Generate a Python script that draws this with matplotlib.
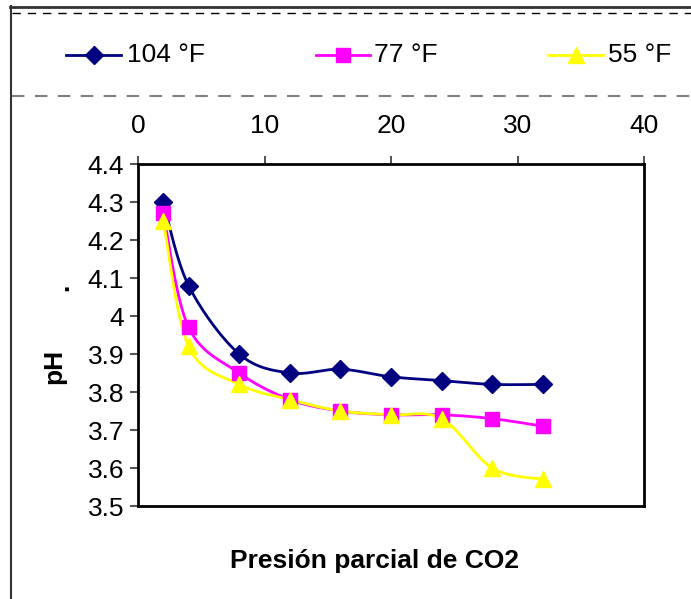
import numpy as np
import matplotlib
matplotlib.use('Agg')
import matplotlib.pyplot as plt
from matplotlib.lines import Line2D

plt.rcParams['font.family'] = ['Liberation Sans', 'DejaVu Sans']

# Datos: presión parcial de CO2 vs pH a tres temperaturas
presion = [2, 4, 8, 12, 16, 20, 24, 28, 32]
ph_104 = [4.30, 4.08, 3.90, 3.85, 3.86, 3.84, 3.83, 3.82, 3.82]
ph_77 = [4.27, 3.97, 3.85, 3.78, 3.75, 3.74, 3.74, 3.73, 3.71]
ph_55 = [4.25, 3.92, 3.82, 3.78, 3.75, 3.74, 3.73, 3.60, 3.57]

series = [
    ('104 °F', ph_104, '#000080', 'D', 9),
    ('77 °F', ph_77, '#FF00FF', 's', 10),
    ('55 °F', ph_55, '#FFFF00', '^', 11),
]

x_ticks = [0, 10, 20, 30, 40]
y_ticks = [3.5, 3.6, 3.7, 3.8, 3.9, 4.0, 4.1, 4.2, 4.3, 4.4]
y_labels = ['3.5', '3.6', '3.7', '3.8', '3.9', '4', '4.1', '4.2', '4.3', '4.4']


def smooth(x, y, n=30):
    """Curva suavizada tipo Catmull-Rom entre los puntos dados."""
    p = np.column_stack([x, y]).astype(float)
    p = np.vstack([p[0], p, p[-1]])
    t = np.linspace(0, 1, n)[:, None]
    out = []
    for i in range(1, len(p) - 2):
        p0, p1, p2, p3 = p[i - 1], p[i], p[i + 1], p[i + 2]
        c1 = p1 + (p2 - p0) / 6
        c2 = p2 - (p3 - p1) / 6
        seg = ((1 - t) ** 3) * p1 + 3 * ((1 - t) ** 2) * t * c1 \
            + 3 * (1 - t) * t ** 2 * c2 + t ** 3 * p2
        out.append(seg)
    out = np.vstack(out)
    return out[:, 0], out[:, 1]


fig = plt.figure(figsize=(6.91, 5.99), dpi=100)
W, H = 691, 599

def fx(px):
    return px / W

def fy(py):
    return 1 - py / H

# Marco exterior y líneas punteadas de la leyenda
fig.add_artist(Line2D([fx(10), 1], [fy(6.5), fy(6.5)], color='#333333', lw=2))
fig.add_artist(Line2D([fx(11), fx(11)], [fy(6), 0], color='#333333', lw=1.5))
fig.add_artist(Line2D([fx(12), 1], [fy(13), fy(13)], color='black', lw=1,
                      linestyle=(0, (6, 5))))
fig.add_artist(Line2D([fx(12), 1], [fy(96), fy(96)], color='#808080', lw=1.5,
                      linestyle=(0, (6, 5))))

ax = fig.add_axes([fx(138), fy(506), fx(644) - fx(138), fy(164) - fy(506)])

for label, vals, color, marker, ms in series:
    sx, sy = smooth(presion, vals)
    ax.plot(sx, sy, color=color, lw=2, zorder=2)
    ax.plot(presion, vals, linestyle='none', marker=marker, color=color,
            markersize=ms, zorder=3)

ax.set_xlim(0, 40)
ax.set_ylim(3.5, 4.4)
ax.set_xticks(x_ticks)
ax.set_yticks(y_ticks)
ax.set_yticklabels(y_labels)
ax.xaxis.tick_top()
ax.tick_params(axis='both', direction='out', length=6, width=1.2,
               labelsize=19, color='#333333')
ax.tick_params(axis='x', pad=13)
ax.tick_params(axis='y', pad=4)
for sp in ax.spines.values():
    sp.set_linewidth(2)
    sp.set_color('black')

# Leyenda manual en la franja superior
legend_pos = [(66, 121, 127), (316, 370, 374), (548, 603, 608)]
for (label, vals, color, marker, ms), (x0, x1, xt) in zip(series, legend_pos):
    fig.add_artist(Line2D([fx(x0), fx(x1)], [fy(55), fy(55)], color=color, lw=2))
    fig.add_artist(Line2D([fx((x0 + x1) / 2)], [fy(55)], marker=marker,
                          color=color, markersize=ms, linestyle='none'))
    fig.text(fx(xt), fy(55), label, fontsize=19, va='center', ha='left')

fig.text(fx(375), fy(561), 'Presión parcial de CO2', fontsize=19,
         fontweight='bold', ha='center', va='center')
fig.text(fx(54), fy(366), 'pH', fontsize=19, fontweight='bold',
         rotation=90, ha='center', va='center')
fig.text(fx(61), fy(287), '.', fontsize=19, fontweight='bold',
         rotation=90, ha='center', va='center')

fig.savefig('out.png', dpi=100)
